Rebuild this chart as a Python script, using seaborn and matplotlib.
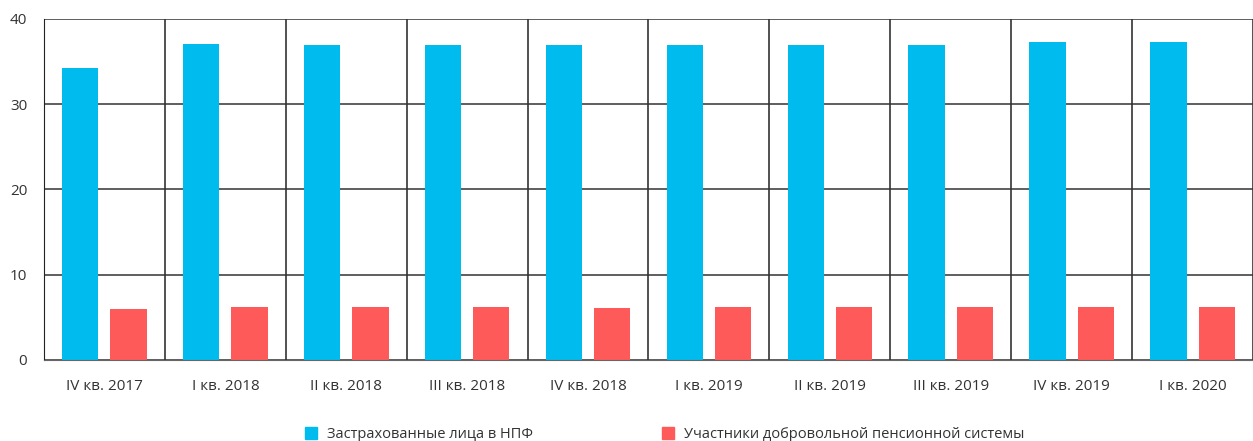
import numpy as np
import pandas as pd
import matplotlib
matplotlib.use("Agg")
import matplotlib.pyplot as plt
from matplotlib.lines import Line2D
import seaborn as sns

# Данные
kvartaly = ["IV кв. 2017", "I кв. 2018", "II кв. 2018", "III кв. 2018", "IV кв. 2018",
            "I кв. 2019", "II кв. 2019", "III кв. 2019", "IV кв. 2019", "I кв. 2020"]
zastrah = [34.3, 37.1, 37.0, 37.0, 37.0, 37.0, 37.0, 37.0, 37.3, 37.3]
uchastniki = [6.0, 6.2, 6.2, 6.2, 6.1, 6.2, 6.2, 6.2, 6.2, 6.2]
serii = ["Застрахованные лица в НПФ", "Участники добровольной пенсионной системы"]
cveta = ["#00BCEE", "#FF5A5A"]

df = pd.DataFrame({
    "Квартал": kvartaly * 2,
    "Значение": zastrah + uchastniki,
    "Серия": [serii[0]] * len(kvartaly) + [serii[1]] * len(kvartaly),
})

sns.set_style("white")
plt.rcParams["font.family"] = ["Open Sans", "DejaVu Sans"]

fig = plt.figure(figsize=(12.53, 4.41), dpi=100)
ax = fig.add_axes([0.0351, 0.1837, 0.9649, 0.7733])

sns.barplot(data=df, x="Квартал", y="Значение", hue="Серия", palette=cveta,
            width=0.8, gap=0.25, ax=ax, legend=False, saturation=1, linewidth=0)

ax.set_xlim(-0.5, len(kvartaly) - 0.5)
ax.set_ylim(0, 40)
ax.set_yticks([0, 10, 20, 30, 40])
ax.set_xticks(np.arange(-0.5, len(kvartaly), 1), minor=True)
ax.grid(True, which="minor", axis="x", color="#222222", linewidth=1.1)
ax.grid(True, which="major", axis="y", color="#333333", linewidth=1.1)
ax.set_axisbelow(True)
for s in ["top", "right"]:
    ax.spines[s].set_visible(False)
ax.spines["left"].set_color("#222222")
ax.spines["bottom"].set_color("#666666")
ax.tick_params(axis="both", which="both", length=0, labelsize=11, colors="#333333")
ax.tick_params(axis="x", pad=14)
ax.tick_params(axis="y", pad=12)
ax.set_xlabel("")
ax.set_ylabel("")

handles = [Line2D([], [], marker="s", linestyle="", markersize=9, color=c) for c in cveta]
fig.legend(handles, serii, loc="center", bbox_to_anchor=(0.527, 0.015), ncol=2,
           frameon=False, fontsize=10.5, columnspacing=8.2, handletextpad=0.1,
           labelcolor="#333333")

fig.savefig("out.png", dpi=100)
